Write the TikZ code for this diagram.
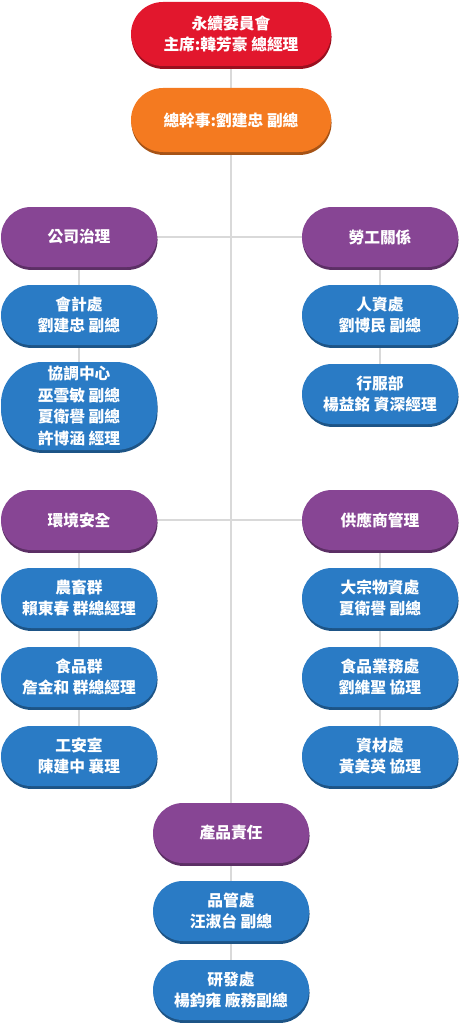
\documentclass[tikz,border=0pt]{standalone}
\usepackage{fontspec}
\setmainfont{Noto Sans CJK TC}
\usetikzlibrary{shadows,backgrounds}
\definecolor{redC}{HTML}{E2172D}
\definecolor{orangeC}{HTML}{F47A20}
\definecolor{purpleC}{HTML}{874594}
\definecolor{blueC}{HTML}{2A7BC5}
\definecolor{lineC}{HTML}{D9D9D9}
\tikzset{unit/.style={rectangle,rounded corners=22.5pt,fill=#1,text=white,align=center,
font=\bfseries\fontsize{11.8}{16.2}\selectfont,minimum width=117pt,minimum height=45pt,inner sep=0pt,
drop shadow={shadow xshift=0.4pt,shadow yshift=-2.2pt,fill=#1!68!black,opacity=1}},
head/.style={unit=#1,minimum width=150pt,minimum height=48pt,rounded corners=24pt},
link/.style={draw=lineC,line width=1pt}}
\begin{document}
\begin{tikzpicture}[x=0.75pt,y=-0.75pt]
\useasboundingbox (0,0) rectangle (461,1024);
\node[head=redC](chair)at(231,34){永續委員會\\主席:韓芳豪 總經理};
\node[head=orangeC](sec)at(231,120){總幹事:劉建忠 副總};
\node[unit=purpleC](gov)at(79,237){公司治理};
\node[unit=blueC](acc)at(79,315){會計處\\劉建忠 副總};
\node[unit=blueC,minimum height=66pt,rounded corners=31pt](coord)at(79,406){協調中心\\巫雪敏 副總\\夏衛譽 副總\\許博涵 經理};
\node[unit=purpleC](labor)at(380,237){勞工關係};
\node[unit=blueC](hr)at(380,315){人資處\\劉博民 副總};
\node[unit=blueC](admin)at(380,394){行服部\\楊益銘 資深經理};
\node[unit=purpleC](env)at(79,520){環境安全};
\node[unit=blueC](farm)at(79,598){農畜群\\賴東春 群總經理};
\node[unit=blueC](food)at(79,677){食品群\\詹金和 群總經理};
\node[unit=blueC](safe)at(79,756){工安室\\陳建中 襄理};
\node[unit=purpleC](supply)at(380,520){供應商管理};
\node[unit=blueC](bulk)at(380,598){大宗物資處\\夏衛譽 副總};
\node[unit=blueC](fbiz)at(380,677){食品業務處\\劉維聖 協理};
\node[unit=blueC](mat)at(380,756){資材處\\黃美英 協理};
\node[unit=purpleC](prod)at(231,833){產品責任};
\node[unit=blueC](qc)at(231,911){品管處\\汪淑台 副總};
\node[unit=blueC](rd)at(231,990){研發處\\楊鈞雍 廠務副總};
\begin{pgfonlayer}{background}
\draw[link](chair)--(sec)--(prod)--(qc)--(rd)
(gov)--(labor)(env)--(supply)
(gov)--(acc)--(coord)(labor)--(hr)--(admin)
(env)--(farm)--(food)--(safe)(supply)--(bulk)--(fbiz)--(mat);
\end{pgfonlayer}
\end{tikzpicture}
\end{document}
